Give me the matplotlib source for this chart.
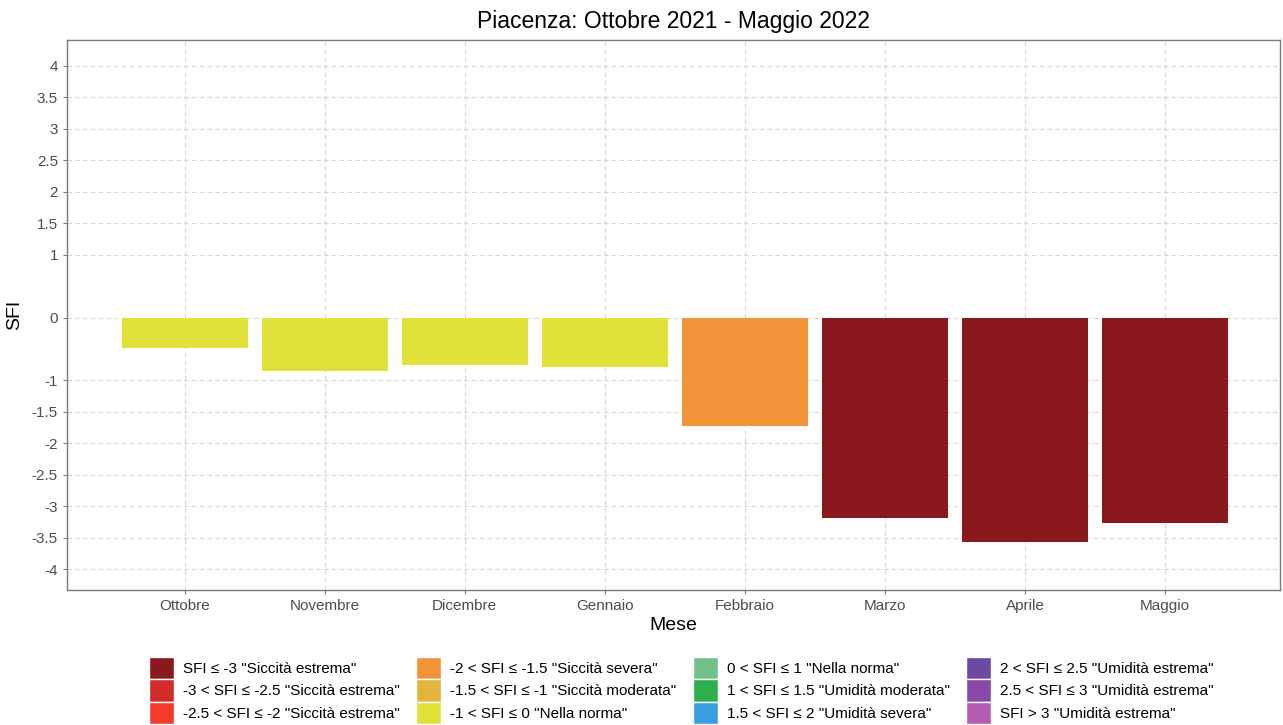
import matplotlib
matplotlib.use("Agg")
import matplotlib.pyplot as plt
from matplotlib.patches import Patch

plt.rcParams['font.family'] = ['Liberation Sans', 'DejaVu Sans']

# data
mesi = ['Ottobre', 'Novembre', 'Dicembre', 'Gennaio', 'Febbraio', 'Marzo', 'Aprile', 'Maggio']
sfi = [-0.48, -0.85, -0.76, -0.78, -1.73, -3.19, -3.56, -3.26]

yticks = [4, 3.5, 3, 2.5, 2, 1.5, 1, 0, -1, -1.5, -2, -2.5, -3, -3.5, -4]

classi = ['SFI ≤ -3 "Siccità estrema"', '-3 < SFI ≤ -2.5 "Siccità estrema"',
          '-2.5 < SFI ≤ -2 "Siccità estrema"', '-2 < SFI ≤ -1.5 "Siccità severa"',
          '-1.5 < SFI ≤ -1 "Siccità moderata"', '-1 < SFI ≤ 0 "Nella norma"',
          '0 < SFI ≤ 1 "Nella norma"', '1 < SFI ≤ 1.5 "Umidità moderata"',
          '1.5 < SFI ≤ 2 "Umidità severa"', '2 < SFI ≤ 2.5 "Umidità estrema"',
          '2.5 < SFI ≤ 3 "Umidità estrema"', 'SFI > 3 "Umidità estrema"']
limiti_sup = [-3, -2.5, -2, -1.5, -1, 0, 1, 1.5, 2, 2.5, 3, 99]
colori = ['#8b181c', '#d32a2a', '#f23b2c', '#f39339', '#e4b33b', '#e0e23a',
          '#74c08a', '#2fae4d', '#3a9fe0', '#6e48a6', '#8a49a8', '#b45bb4']


def colore(v):
    for lim, c in zip(limiti_sup, colori):
        if v <= lim:
            return c
    return colori[-1]


fig = plt.figure(figsize=(12.83, 7.25), dpi=100)
ax = fig.add_axes([0.0522, 0.1862, 0.9455, 0.7586])

x = range(1, len(mesi) + 1)
ax.bar(x, sfi, width=0.9, color=[colore(v) for v in sfi], zorder=2)

ax.set_xlim(0.16, 8.82)
ax.set_ylim(-4.33, 4.41)
ax.set_xticks(list(x))
ax.set_xticklabels(mesi)
ax.set_yticks(yticks)
ax.set_yticklabels([('%g' % t) for t in yticks])

ax.grid(True, linestyle=(0, (4, 3)), color='#d6d6d6', linewidth=0.8, zorder=0)
for s in ax.spines.values():
    s.set_color('#7a7a7a')
    s.set_linewidth(1.0)
ax.tick_params(colors='#7a7a7a', labelcolor='#4d4d4d', labelsize=11, length=3)

ax.set_xlabel('Mese', fontsize=14, labelpad=3)
ax.set_ylabel('SFI', fontsize=14, labelpad=6)
ax.set_title('Piacenza: Ottobre 2021 - Maggio 2022', fontsize=16.5, pad=9)

handles = [Patch(facecolor=c, edgecolor='white', linewidth=1) for c in colori]
fig.legend(handles, classi, ncol=4, loc='upper center', bbox_to_anchor=(0.531, 0.105),
           frameon=False, fontsize=11, handlelength=1.65, handleheight=1.9,
           labelspacing=0.0, handletextpad=0.6, columnspacing=1.05, borderpad=0)

fig.savefig('out.png', dpi=100)
